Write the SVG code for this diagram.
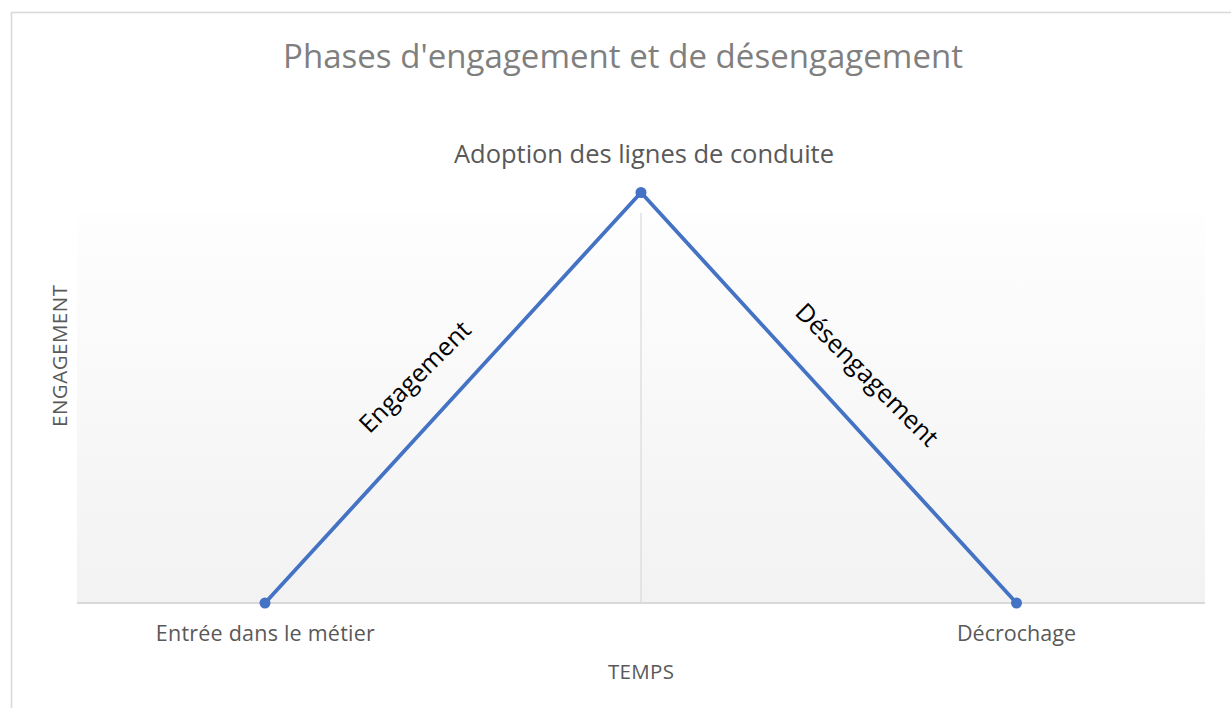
<svg xmlns="http://www.w3.org/2000/svg" width="1231" height="708" viewBox="0 0 1231 708">
  <defs>
    <linearGradient id="plotFill" x1="0" y1="0" x2="0" y2="1">
      <stop offset="0" stop-color="#fefefe"/>
      <stop offset="1" stop-color="#f2f2f2"/>
    </linearGradient>
    <style>
      text { font-family: "Open Sans", "Noto Sans", "Liberation Sans", sans-serif; }
      .title { font-size: 33px; fill: #7f7f7f; }
      .dlabel { font-size: 25.5px; fill: #595959; }
      .cat { font-size: 21.5px; fill: #595959; }
      .axis { font-size: 20.5px; fill: #595959; }
      .phase { font-size: 25px; fill: #000000; }
      .grid { stroke: #d9d9d9; stroke-width: 1.2; fill: none; }
      .axisline { stroke: #d9d9d9; stroke-width: 1.8; fill: none; }
      .series { stroke: #4472c4; stroke-width: 3.8; fill: none; stroke-linejoin: round; stroke-linecap: round; }
      .pt { fill: #4472c4; }
    </style>
  </defs>

  <rect x="0" y="0" width="1231" height="708" fill="#ffffff"/>
  <g id="chart-frame">
    <rect x="11.5" y="12.5" width="1240" height="720" fill="#ffffff" stroke="#d9d9d9" stroke-width="1.6"/>
  </g>

  <g id="title">
    <text class="title" x="623" y="68" text-anchor="middle" textLength="680" lengthAdjust="spacing">Phases d'engagement et de désengagement</text>
  </g>

  <g id="plot-area">
    <rect x="77" y="213" width="1128" height="390" fill="url(#plotFill)"/>
    <line class="grid" x1="641" y1="213" x2="641" y2="603"/>
    <line class="axisline" x1="77" y1="603" x2="1205" y2="603"/>
  </g>

  <g id="axis-titles">
    <text class="axis" x="641" y="679" text-anchor="middle" textLength="66" lengthAdjust="spacing">TEMPS</text>
    <text class="axis" transform="translate(67,356) rotate(-90)" x="0" y="0" text-anchor="middle" textLength="142" lengthAdjust="spacing">ENGAGEMENT</text>
  </g>

  <g id="connectors">
    <polyline class="series" points="265,603 641,192.5 1016.5,603"/>
    <text class="phase" transform="translate(421,383) rotate(-45)" x="0" y="0" text-anchor="middle">Engagement</text>
    <text class="phase" transform="translate(861,381) rotate(45)" x="0" y="0" text-anchor="middle">Désengagement</text>
  </g>

  <g id="node-entree">
    <circle class="pt" cx="265" cy="603" r="5.5"/>
    <text class="cat" x="265.3" y="641" text-anchor="middle" textLength="219" lengthAdjust="spacing">Entrée dans le métier</text>
  </g>

  <g id="node-adoption">
    <circle class="pt" cx="641" cy="192.5" r="5.5"/>
    <text class="dlabel" x="644" y="163" text-anchor="middle" textLength="380" lengthAdjust="spacing">Adoption des lignes de conduite</text>
  </g>

  <g id="node-decrochage">
    <circle class="pt" cx="1016.5" cy="603" r="5.5"/>
    <text class="cat" x="1016.5" y="641" text-anchor="middle" textLength="119" lengthAdjust="spacing">Décrochage</text>
  </g>
</svg>
